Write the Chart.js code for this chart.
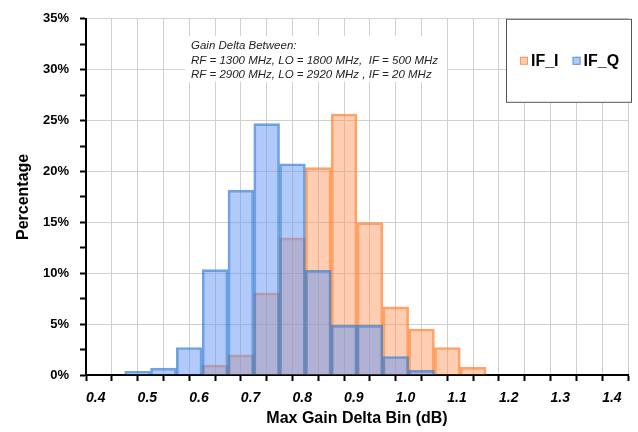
<!DOCTYPE html>
<html>
<head>
<meta charset="utf-8">
<script src="https://cdn.jsdelivr.net/npm/chart.js@4"></script>
<style>
  html, body { margin: 0; padding: 0; background: #fff; }
  #wrap { width: 638px; height: 432px; }
</style>
</head>
<body>
<div id="wrap"><canvas id="histChart"></canvas></div>
<script>
// bin centres (dB) and percentages
const binsQ = [0.50, 0.55, 0.60, 0.65, 0.70, 0.75, 0.80, 0.85, 0.90, 0.95, 1.00, 1.05];
const pctQ  = [0.35, 0.68, 2.7, 10.35, 18.16, 24.7, 20.76, 10.28, 4.88, 4.88, 1.82, 0.45];
const binsI = [0.65, 0.70, 0.75, 0.80, 0.85, 0.90, 0.95, 1.00, 1.05, 1.10, 1.15];
const pctI  = [0.98, 1.98, 8.07, 13.47, 20.37, 25.65, 14.97, 6.7, 4.52, 2.7, 0.75];
const noteLines = [
  'Gain Delta Between:',
  'RF = 1300 MHz, LO = 1800 MHz,  IF = 500 MHz',
  'RF = 2900 MHz, LO = 2920 MHz , IF = 20 MHz'
];

const toPoints = (xs, ys) => xs.map((x, i) => ({ x, y: ys[i] }));

const boxesPlugin = {
  id: 'boxes',
  afterDatasetsDraw(chart) {
    const { ctx, chartArea } = chart;
    ctx.save();
    // note box
    ctx.fillStyle = '#fff';
    ctx.fillRect(chartArea.left + 99, chartArea.top + 17, 262, 46);
    ctx.fillStyle = '#222';
    ctx.font = 'italic 11.5px "Liberation Sans", Arial, sans-serif';
    ctx.textBaseline = 'middle';
    noteLines.forEach((t, i) => ctx.fillText(t, chartArea.left + 105, chartArea.top + 27 + i * 14.5));

    // legend box
    const lx = 506, ly = chartArea.top, lw = 126, lh = 84;
    ctx.fillStyle = '#fff';
    ctx.fillRect(lx, ly, lw, lh);
    ctx.strokeStyle = '#555';
    ctx.lineWidth = 1;
    ctx.strokeRect(lx + 0.5, ly + 0.5, lw - 1, lh - 1);
    ctx.font = 'bold 16px "Liberation Sans", Arial, sans-serif';
    let x = lx + 14;
    const cy = ly + 42;
    for (const ds of [chart.data.datasets[1], chart.data.datasets[0]]) {
      ctx.fillStyle = ds.backgroundColor;
      ctx.fillRect(x, cy - 4, 8, 8);
      ctx.strokeStyle = ds.borderColor;
      ctx.strokeRect(x + 0.5, cy - 3.5, 7, 7);
      ctx.fillStyle = '#000';
      ctx.fillText(ds.label, x + 11, cy + 1);
      x += 11 + ctx.measureText(ds.label).width + 14;
    }
    ctx.restore();
  }
};

new Chart(document.getElementById('histChart'), {
  type: 'bar',
  data: {
    datasets: [
      {
        label: 'IF_Q',
        data: toPoints(binsQ, pctQ),
        backgroundColor: 'rgba(100,150,245,0.5)',
        borderColor: 'rgba(50,125,210,0.7)',
        borderWidth: 2,
        grouped: false,
        order: 1
      },
      {
        label: 'IF_I',
        data: toPoints(binsI, pctI),
        backgroundColor: 'rgba(255,150,95,0.48)',
        borderColor: 'rgba(255,125,40,0.7)',
        borderWidth: 2,
        grouped: false,
        order: 2
      }
    ]
  },
  options: {
    responsive: true,
    maintainAspectRatio: false,
    animation: false,
    barPercentage: 1,
    categoryPercentage: 1,
    layout: { padding: { top: 17, right: 10, left: 0, bottom: 0 } },
    plugins: {
      legend: { display: false },
      tooltip: { enabled: false }
    },
    scales: {
      x: {
        type: 'linear',
        min: 0.4,
        max: 1.45,
        offset: false,
        afterFit: s => { s.height = 57; },
        ticks: {
          stepSize: 0.05,
          autoSkip: false,
          minRotation: 0,
          maxRotation: 0,
          align: 'start',
          padding: 9,
          color: '#000',
          font: { family: '"Liberation Sans", Arial, sans-serif', size: 14, weight: 'bold', style: 'italic' },
          callback: v => (Math.round(v * 100) % 10 === 0 ? v.toFixed(1) : '')
        },
        grid: { offset: false, color: '#d0d0d0', lineWidth: 1, tickColor: '#000', tickLength: 6, tickWidth: 2 },
        border: { color: '#000', width: 2 },
        title: {
          display: true,
          text: 'Max Gain Delta Bin (dB)',
          color: '#000',
          padding: { top: 6 },
          font: { family: '"Liberation Sans", Arial, sans-serif', size: 16, weight: 'bold' }
        }
      },
      y: {
        min: 0,
        max: 35,
        afterFit: s => { s.width = 86; },
        ticks: {
          stepSize: 2.5,
          padding: 11,
          color: '#000',
          font: { family: '"Liberation Sans", Arial, sans-serif', size: 13, weight: 'bold' },
          callback: v => (v % 5 === 0 ? v + '%' : '')
        },
        grid: {
          color: c => (c.tick && c.tick.value % 5 === 0 ? '#d0d0d0' : 'rgba(0,0,0,0)'),
          tickColor: '#000',
          tickLength: 6,
          tickWidth: 2
        },
        border: { color: '#000', width: 2 },
        title: {
          display: true,
          text: 'Percentage',
          color: '#000',
          padding: { bottom: 0, top: 14 },
          font: { family: '"Liberation Sans", Arial, sans-serif', size: 16, weight: 'bold' }
        }
      }
    }
  },
  plugins: [boxesPlugin]
});
</script>
</body>
</html>
